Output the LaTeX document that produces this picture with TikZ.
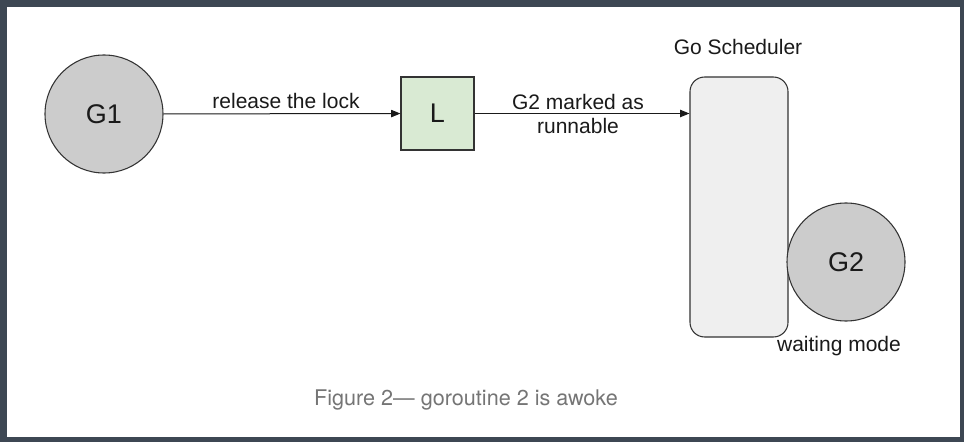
\documentclass[tikz,border=0pt]{standalone}
\usepackage{fontspec}
\setmainfont{Liberation Sans}
\newfontfamily\capfont{TeX Gyre Heros}
\usetikzlibrary{arrows.meta}
\definecolor{framecol}{HTML}{3D4753}
\definecolor{circfill}{HTML}{CCCCCC}
\definecolor{lockfill}{HTML}{D9EAD3}
\definecolor{schedfill}{HTML}{EFEFEF}
\definecolor{strokecol}{HTML}{333333}
\definecolor{txtcol}{HTML}{1A1A1A}
\definecolor{capcol}{HTML}{757575}
\begin{document}
\begin{tikzpicture}[x=0.75pt,y=-0.75pt,
  gcircle/.style={circle,draw=strokecol,fill=circfill,line width=0.8pt,minimum size=88.5pt,inner sep=0pt,text=txtcol,font=\fontsize{20.25}{24}\selectfont},
  lockbox/.style={rectangle,draw=strokecol,fill=lockfill,line width=0.8pt,minimum size=54.75pt,inner sep=0pt,text=txtcol,font=\fontsize{20.25}{24}\selectfont},
  schedbox/.style={rectangle,rounded corners=11pt,draw=strokecol,fill=schedfill,line width=0.8pt,minimum width=73.5pt,minimum height=195pt,inner sep=0pt},
  lbl/.style={text=txtcol,font=\fontsize{15.75}{18}\selectfont,inner sep=0pt,align=center},
  arr/.style={draw=txtcol,line width=0.75pt,-{Triangle[length=7pt,width=5.5pt]}}
]
\fill[framecol] (0,0) rectangle (964,442);
\fill[white] (7,7) rectangle (960,437);
\useasboundingbox (0,0) rectangle (964,442);
\node[gcircle] (g1) at (104,114) {G1};
\node[lockbox] (l) at (437.5,113.5) {L};
\node[schedbox] (s) at (739,207) {};
\node[gcircle] (g2) at (846,262) {G2};
\node[lbl] (schedlbl) at (738,47) {Go Scheduler};
\node[lbl] (waitlbl) at (839,346) {waiting mode};
\draw[arr] (g1) -- node[lbl,above=3.5pt,xshift=3pt] (rel) {release the lock} (l);
\draw[arr] (l.east) -- node[lbl,xshift=-3pt] (mark) {G2 marked as\\runnable} (l.east -| s.west);
\node[text=capcol,font=\capfont\fontsize{16.2}{19}\selectfont,inner sep=0pt] (cap) at (466,400) {Figure 2— goroutine 2 is awoke};
\end{tikzpicture}
\end{document}
